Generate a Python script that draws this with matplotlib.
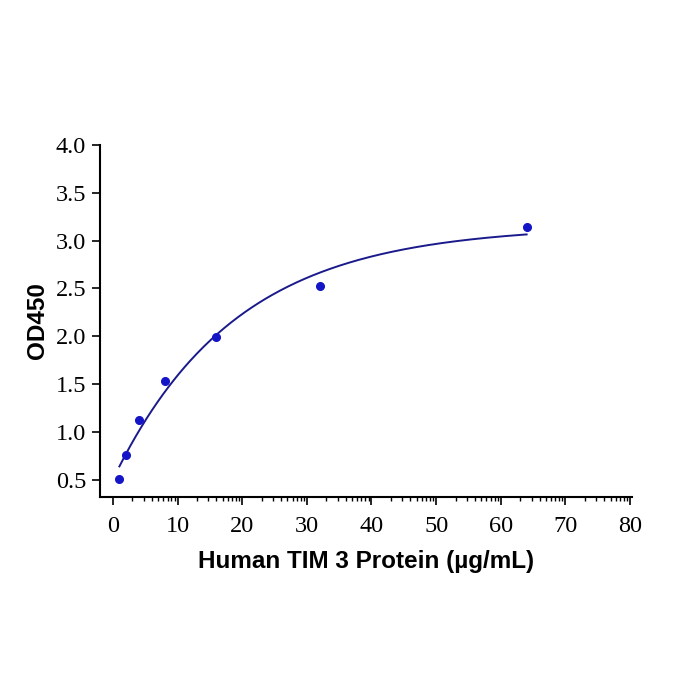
import numpy as np
import matplotlib.pyplot as plt
from matplotlib.ticker import FixedLocator

# --- data ---
conc = [1, 2, 4, 8, 16, 32, 64]  # ug/mL
od450 = [0.51, 0.76, 1.12, 1.53, 1.99, 2.53, 3.14]

x_ticks = [0, 10, 20, 30, 40, 50, 60, 70, 80]
y_ticks = [0.5, 1.0, 1.5, 2.0, 2.5, 3.0, 3.5, 4.0]

# --- fit y = a - b*exp(-k x) (grid over k, linear lsq for a, b) ---
x = np.array(conc, dtype=float)
y = np.array(od450)
best = None
for k in np.linspace(0.005, 0.3, 600):
    A = np.column_stack([np.ones_like(x), -np.exp(-k * x)])
    coef, *_ = np.linalg.lstsq(A, y, rcond=None)
    err = np.sum((A @ coef - y) ** 2)
    if best is None or err < best[0]:
        best = (err, k, coef)
_, k, (a, b) = best
xf = np.linspace(x.min(), x.max(), 300)
yf = a - b * np.exp(-k * xf)

# --- plot ---
fig = plt.figure(figsize=(7, 7), dpi=100)
ax = fig.add_axes([100 / 700, 1 - 497 / 700, 532 / 700, 352 / 700])

ax.plot(xf, yf, color="#1a1a8c", lw=1.4)
ax.plot(conc, od450, "o", color="#1515c8", ms=5.5)

ax.set_xlim(-2, 80.3)
ax.set_ylim(0.32, 4.0)
ax.set_xticks(x_ticks)
ax.set_yticks(y_ticks)
ax.set_yticklabels([f"{v:.1f}" for v in y_ticks])

# log-style minor ticks inside each 10-unit interval
minor = [d + 10 * np.log10(m) for d in range(0, 80, 10) for m in range(2, 10)]
ax.xaxis.set_minor_locator(FixedLocator(minor))

for s in ["top", "right"]:
    ax.spines[s].set_visible(False)
for s in ["left", "bottom"]:
    ax.spines[s].set_linewidth(1.5)

ax.tick_params(axis="both", which="major", length=6, width=1.2,
               labelsize=17.5, direction="out")
ax.tick_params(axis="y", which="major", pad=4)
ax.tick_params(axis="x", which="major", pad=8)
ax.tick_params(axis="x", which="minor", length=3, width=1.0)
for lab in ax.get_xticklabels() + ax.get_yticklabels():
    lab.set_fontfamily("Liberation Serif")

ax.set_xlabel("Human TIM 3 Protein (µg/mL)", fontsize=17.5, fontweight="bold",
              fontfamily="Liberation Sans", labelpad=9)
ax.set_ylabel("OD450", fontsize=17.5, fontweight="bold",
              fontfamily="Liberation Sans", labelpad=5)

fig.savefig("out.png", dpi=100)
